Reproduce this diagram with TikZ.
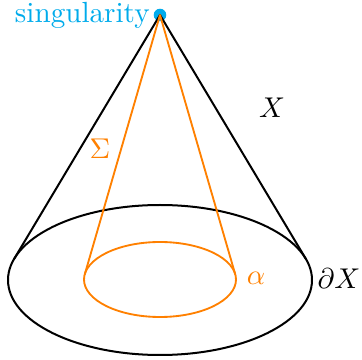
\documentclass[tikz,border=0pt]{standalone}
\usetikzlibrary{positioning}
\definecolor{singcyan}{RGB}{0,171,235}
\definecolor{sigorange}{RGB}{255,128,0}
\begin{document}
\begin{tikzpicture}[x=0.35pt,y=-0.35pt,line cap=round,line join=round]
  \useasboundingbox (0,0) rectangle (362,360);
  \coordinate (O) at (160,280);
  \coordinate (C) at (160,279.5);
  % tangent points on the two ellipses
  \coordinate (A) at (14.2,258.8);
  \coordinate (B) at (305.8,258.8);
  \coordinate (P) at (84.8,274.2);
  \coordinate (Q) at (235.2,274.2);
  \draw[line width=0.7pt] (O) ellipse[x radius=152,y radius=75];
  \draw[line width=0.65pt,sigorange] (C) ellipse[x radius=76,y radius=37.5];
  \node[circle,fill=singcyan,inner sep=0pt,minimum size=4.4pt] (S) at (160,15) {};
  \draw[line width=0.7pt] (A) -- (S.center) -- (B);
  \draw[line width=0.65pt,sigorange] (P) -- (S.center) -- (Q);
  \node[left=0pt of S,singcyan,inner sep=1pt,scale=1.02] (sing) {singularity};
  \node[sigorange] (sigma) at (100,149) {$\Sigma$};
  \node (X) at (272,108) {$X$};
  \node[sigorange] (alpha) at (256,278) {$\alpha$};
  \node (dX) at (339,279) {$\partial X$};
\end{tikzpicture}
\end{document}
